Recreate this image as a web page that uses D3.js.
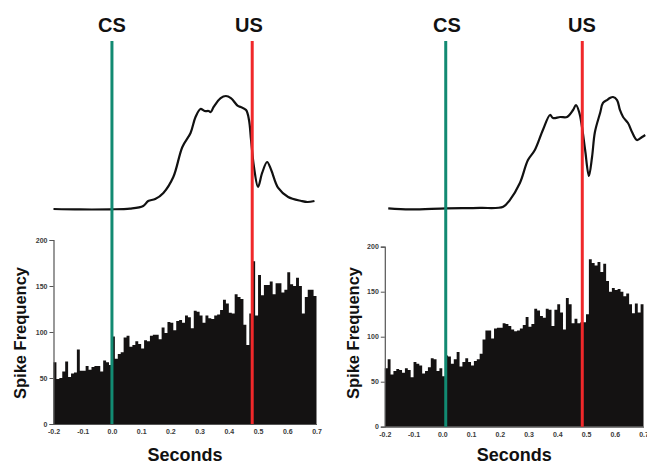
<!DOCTYPE html>
<html>
<head>
<meta charset="utf-8">
<script src="https://cdn.jsdelivr.net/npm/d3@7"></script>
<style>
  body { margin: 0; background: #fff; }
  text { font-family: "Liberation Sans", Arial, sans-serif; }
</style>
</head>
<body>
<svg id="chart" width="647" height="464"></svg>
<script>
// histogram bins: 10 ms from -0.2 s to 0.7 s
var binStart = -0.2;
var binWidth = 0.01;
var leftCounts = [67, 49, 50, 57, 68, 51, 55, 56, 81, 58, 58, 63, 59, 62, 63, 63, 57, 69, 67, 64,
	95, 71, 76, 78, 94, 96, 84, 86, 90, 87, 82, 91, 90, 96, 97, 97, 92, 105, 99, 111,
	110, 102, 112, 113, 110, 118, 116, 104, 123, 122, 118, 110, 118, 115, 114, 118, 119, 124, 135, 131,
	121, 120, 141, 138, 136, 108, 86, 120, 177, 118, 162, 140, 151, 151, 155, 141, 153, 153, 143, 146,
	165, 152, 150, 159, 150, 120, 138, 146, 146, 139];
var rightCounts = [65, 75, 58, 62, 64, 63, 60, 65, 63, 55, 72, 70, 68, 59, 62, 66, 76, 75, 62, 65,
	56, 79, 78, 70, 75, 83, 67, 72, 76, 72, 68, 73, 75, 81, 97, 107, 107, 98, 109, 110,
	110, 115, 114, 112, 108, 106, 107, 109, 113, 122, 111, 114, 131, 129, 123, 121, 131, 130, 112, 130,
	136, 127, 108, 143, 136, 115, 120, 115, 116, 116, 125, 186, 182, 179, 183, 172, 181, 162, 150, 154,
	152, 153, 150, 145, 148, 136, 126, 137, 127, 136];

// eyelid traces [seconds, % of peak]
var leftTrace = [[-0.2, 0], [-0.11, -0.4], [-0.007, -0.3], [0.062, 0.4], [0.107, 2.7], [0.124, 7.1],
	[0.148, 8.8], [0.176, 14.2], [0.21, 28.3], [0.241, 54.9], [0.269, 67.3], [0.286, 81.4],
	[0.303, 88.5], [0.317, 86.7], [0.331, 86.7], [0.338, 85.8], [0.348, 90.3], [0.372, 98.2],
	[0.39, 100], [0.407, 98.2], [0.431, 91.2], [0.441, 90.3], [0.459, 87.6], [0.469, 78.8],
	[0.476, 61.1], [0.486, 37.2], [0.5, 19.5], [0.514, 31.9], [0.531, 41.6], [0.545, 34.5],
	[0.569, 18.6], [0.603, 10.6], [0.648, 7.1], [0.669, 6.2], [0.693, 7.1]];
var rightTrace = [[-0.188, 0], [-0.112, -1], [0.015, 0], [0.131, 0.3], [0.212, 1.4], [0.235, 7.3],
	[0.27, 22.4], [0.298, 42.7], [0.322, 51.6], [0.35, 69.3], [0.375, 82.6], [0.385, 79.9],
	[0.41, 80.8], [0.434, 80.8], [0.455, 87], [0.465, 91.4], [0.476, 85.2], [0.486, 71.9],
	[0.497, 51.6], [0.51, 28.6], [0.521, 45.4], [0.531, 67.5], [0.549, 84.3], [0.559, 93.2],
	[0.573, 95.8], [0.583, 97.6], [0.594, 98.5], [0.608, 95.8], [0.618, 87], [0.629, 80.8],
	[0.646, 75.5], [0.66, 67.5], [0.677, 60.4], [0.695, 63.1], [0.706, 64.9]];

var xTicks = [-0.2, -0.1, 0.0, 0.1, 0.2, 0.3, 0.4, 0.5, 0.6, 0.7];
var yTicks = [0, 50, 100, 150, 200];
var leftEvents = { CS: 0.0, US: 0.48 };
var rightEvents = { CS: 0.012, US: 0.487 };

var panels = [
	{ counts: leftCounts, trace: leftTrace, events: leftEvents,
	  xRange: [53.5, 316.5], yRange: [424, 240], traceBase: 209, labelX: 26,
	  csLabel: 112, usLabel: 249 },
	{ counts: rightCounts, trace: rightTrace, events: rightEvents,
	  xRange: [384.8, 643.5], yRange: [426.7, 246.7], traceBase: 208.3, labelX: 359,
	  csLabel: 447, usLabel: 582 }
];

var svg = d3.select('#chart');

panels.forEach(function(p) {
	var x = d3.scaleLinear().domain([-0.2, 0.7]).range(p.xRange);
	var y = d3.scaleLinear().domain([0, 200]).range(p.yRange);
	var ty = d3.scaleLinear().domain([0, 100]).range([p.traceBase, p.traceBase - 113]);
	var g = svg.append('g');

	// bars as one stepped area so neighbouring bins have no seams
	var steps = p.counts.map(function(d, i) { return [binStart + i * binWidth, d]; });
	steps.push([binStart + p.counts.length * binWidth, p.counts[p.counts.length - 1]]);
	var area = d3.area()
		.x(function(d) { return x(d[0]); })
		.y0(y(0))
		.y1(function(d) { return y(d[1]); })
		.curve(d3.curveStepAfter);
	g.append('path')
		.datum(steps)
		.attr('d', area)
		.attr('fill', '#141212');

	// axes
	var yAxis = g.append('g')
		.attr('transform', 'translate(' + p.xRange[0] + ',0)')
		.call(d3.axisLeft(y).tickValues(yTicks).tickSize(4).tickPadding(2));
	var xAxis = g.append('g')
		.attr('transform', 'translate(0,' + p.yRange[0] + ')')
		.call(d3.axisBottom(x).tickValues(xTicks).tickSize(0).tickPadding(5));
	[yAxis, xAxis].forEach(function(a) {
		a.select('.domain').attr('stroke', '#555').attr('stroke-width', 1.2);
		a.selectAll('.tick line').attr('stroke', '#555');
		a.selectAll('.tick text')
			.attr('fill', '#3a3a3a')
			.attr('font-size', '7px')
			.attr('font-weight', 'bold')
			.attr('font-family', '"Liberation Sans", Arial, sans-serif');
	});
	xAxis.selectAll('.tick text').text(function(d) { return d3.format('.1f')(d).replace('\u2212', '-'); });

	// trace
	var line = d3.line()
		.x(function(d) { return x(d[0]); })
		.y(function(d) { return ty(d[1]); })
		.curve(d3.curveCatmullRom);
	g.append('path')
		.datum(p.trace)
		.attr('d', line)
		.attr('fill', 'none')
		.attr('stroke', '#111')
		.attr('stroke-width', 2.2)
		.attr('stroke-linejoin', 'round');

	// event markers
	g.append('line')
		.attr('x1', x(p.events.CS)).attr('x2', x(p.events.CS))
		.attr('y1', 41).attr('y2', p.yRange[0])
		.attr('stroke', '#128a72').attr('stroke-width', 3);
	g.append('line')
		.attr('x1', x(p.events.US)).attr('x2', x(p.events.US))
		.attr('y1', 41).attr('y2', p.yRange[0])
		.attr('stroke', '#f0282a').attr('stroke-width', 3);
	g.append('text')
		.attr('x', p.csLabel).attr('y', 32)
		.attr('text-anchor', 'middle')
		.attr('font-size', '20px').attr('font-weight', 'bold')
		.attr('fill', '#111')
		.text('CS');
	g.append('text')
		.attr('x', p.usLabel).attr('y', 32)
		.attr('text-anchor', 'middle')
		.attr('font-size', '20px').attr('font-weight', 'bold')
		.attr('fill', '#111')
		.text('US');

	// axis titles
	g.append('text')
		.attr('transform', 'translate(' + p.labelX + ',333) rotate(-90)')
		.attr('text-anchor', 'middle')
		.attr('font-size', '16.5px').attr('font-weight', 'bold')
		.attr('fill', '#111')
		.text('Spike Frequency');
	g.append('text')
		.attr('x', (x(-0.2) + x(0.7)) / 2)
		.attr('y', 461)
		.attr('text-anchor', 'middle')
		.attr('font-size', '18px').attr('font-weight', 'bold')
		.attr('fill', '#111')
		.text('Seconds');
});
</script>
</body>
</html>
